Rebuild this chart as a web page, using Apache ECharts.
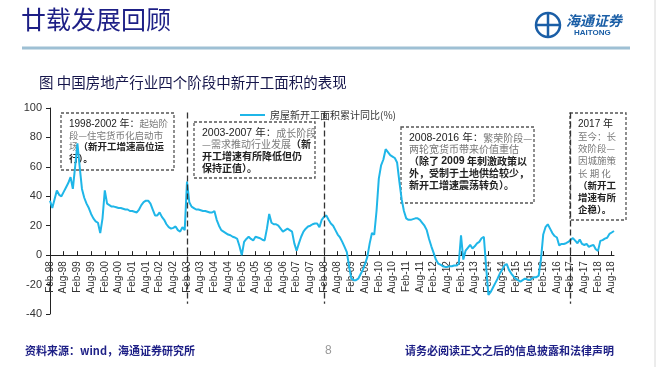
<!DOCTYPE html>
<html><head><meta charset="utf-8">
<script src="https://cdn.jsdelivr.net/npm/echarts@6/dist/echarts.min.js"></script>
<style>html,body{margin:0;padding:0;background:#fff;}#c{width:660px;height:367px;}</style>
</head><body><div id="c"></div>
<script>
// Monthly values, 房屋新开工面积累计同比(%), Feb-1998 .. Sep-2018
const y1998 = [37, 32, 38, 44, 41, 40, 43, 46, 49, 53, 45]; // Feb-Dec
const y1999 = [60, 76, 60, 45, 39, 35, 32, 28, 25, 23, 22, 15];
const y2000 = [25, 44, 35, 34, 33, 33, 32.5, 32, 32, 31.5, 31, 31];
const y2001 = [30, 30, 29.5, 29, 31, 34, 36, 37, 37, 35, 31, 27];
const y2002 = [27, 29, 26, 24, 21, 19, 18, 18.5, 19.5, 17, 16, 19];
const y2003 = [17, 50, 36, 33, 32, 31, 31, 30.5, 30, 30, 29.5, 29];
const y2004 = [29, 30, 24, 20, 17, 16, 15, 14, 13.5, 12.5, 12, 11];
const y2005 = [6, 0, 9, 11, 12.5, 11, 10, 12.5, 12, 11.5, 10.5, 10];
const y2006 = [18, 28, 22, 21, 21, 20, 18, 16, 17, 18, 17, 16];
const y2007 = [8, 3, 8, 12.5, 16, 18, 19.5, 20, 21, 21.5, 21.5, 19];
const y2008 = [24, 26, 27, 24, 21.5, 20, 17, 14, 12, 9, 5.6, 2];
const y2009 = [-8, -16, -17, -17, -16, -13, -10, -6, -1, 8, 15, 14];
const y2010 = [30, 52, 61, 65, 72, 70, 68, 67, 66, 63, 50, 38];
const y2011 = [30, 25, 24, 24, 24.5, 25, 25, 24, 22, 20, 17, 11];
const y2012 = [6, 1.5, -3, -5.7, -6.5, -7.5, -8, -8, -7.5, -7.5, -7, -7];
const y2013 = [-6, 13.5, -3, 3, 5, 7, 4.5, 6, 8, 9, 11.5, 12.5];
const y2014 = [-8, -27, -25, -22, -19, -16, -12.5, -10, -7, -6, -10, -12.5];
const y2015 = [-14.5, -16, -17, -18, -17, -16, -16.5, -17, -16, -15, -15, -14];
const y2016 = [-3, 14, 19, 21, 18, 15, 13, 12, 6.6, 7.6, 7.6, 8.1];
const y2017 = [9, 10.4, 11.6, 9.9, 8.1, 10.6, 7.6, 6.9, 7.7, 5.6, 6.4, 7.0];
const y2018 = [4, 2.9, 9.7, 10.2, 11.2, 11.8, 14.4, 15.4, 16.4]; // Jan-Sep

const monthNames = ['Jan','Feb','Mar','Apr','May','Jun','Jul','Aug','Sep','Oct','Nov','Dec'];
const yearArrays = [y1998,y1999,y2000,y2001,y2002,y2003,y2004,y2005,y2006,y2007,y2008,y2009,y2010,y2011,y2012,y2013,y2014,y2015,y2016,y2017,y2018];
const firstYear = 1998;
const stageLines = ['Feb-03', 'Feb-08', 'Feb-17'];
const yTicks = {min: -40, max: 100, interval: 20};
const seriesName = '房屋新开工面积累计同比(%)';

const categories = [];
const values = [];
yearArrays.forEach((arr, i) => {
  const yr = firstYear + i;
  const startMonth = (i === 0) ? 1 : 0;
  arr.forEach((v, j) => {
    categories.push(monthNames[startMonth + j] + '-' + String(yr % 100).padStart(2, '0'));
    values.push(v);
  });
});

const navy = '#1d1f86';
const cjk = '"Noto Sans CJK SC", sans-serif';
const gridTop = 108, gridBottom = 53, H = 367;
const gridH = H - gridTop - gridBottom;
const zeroOffset = gridH * (0 - yTicks.min) / (yTicks.max - yTicks.min);

function box(x, y, w, h, lines, lh, fs) {
  return {
    type: 'group', children: [
      {type: 'rect', shape: {x: x, y: y, width: w, height: h},
       style: {fill: 'none', stroke: '#555', lineWidth: 1.3, lineDash: [3, 2]}},
      {type: 'text', x: x + 8, y: y + 5,
       style: {text: lines, font: fs + 'px ' + cjk, lineHeight: lh,
         rich: {
           n: {fontFamily: 'Arial, "Noto Sans CJK SC"', fontSize: fs + 0.5, fill: '#222', lineHeight: lh},
           g: {fontFamily: cjk, fontSize: fs, fill: '#7a7a7a', lineHeight: lh},
           b: {fontFamily: cjk, fontSize: fs, fontWeight: 'bold', fill: '#222', lineHeight: lh},
           bn: {fontFamily: 'Arial, "Noto Sans CJK SC"', fontSize: fs + 0.5, fontWeight: 'bold', fill: '#222', lineHeight: lh}
         }}}
    ]
  };
}

const chart = echarts.init(document.getElementById('c'), null, {renderer: 'canvas'});
chart.setOption({
  backgroundColor: '#fff',
  animation: false,
  grid: {left: 50, right: 46, top: gridTop, bottom: gridBottom, containLabel: false},
  legend: {
    left: 235, top: 105, itemWidth: 25, itemHeight: 2, icon: 'rect',
    textStyle: {fontSize: 10, color: '#333', fontFamily: cjk},
    data: [seriesName]
  },
  xAxis: {
    type: 'category', data: categories, boundaryGap: false,
    offset: -zeroOffset,
    axisLine: {onZero: false, lineStyle: {color: '#222', width: 1}},
    axisTick: {inside: true, length: 4, interval: (i) => i % 6 === 0, lineStyle: {color: '#222'}},
    axisLabel: {rotate: 90, fontSize: 10, color: '#333', fontFamily: 'Arial', margin: 6,
      interval: (i) => i % 6 === 0},
    splitLine: {show: false}
  },
  yAxis: {
    type: 'value', min: yTicks.min, max: yTicks.max, interval: yTicks.interval,
    axisLine: {show: true, lineStyle: {color: '#222', width: 1}},
    axisTick: {show: true, length: 4, lineStyle: {color: '#222'}},
    axisLabel: {fontSize: 11, color: '#333', fontFamily: 'Arial', margin: 8},
    splitLine: {show: false}
  },
  series: [{
    name: seriesName, type: 'line', data: values, symbol: 'none',
    lineStyle: {color: '#1fb6e8', width: 2}, itemStyle: {color: '#1fb6e8'},
    markLine: {
      silent: true, symbol: 'none', label: {show: false},
      lineStyle: {color: '#333', type: [6, 3], width: 1.3},
      data: stageLines.map(c => [{coord: [c, 97]}, {coord: [c, -33]}])
    }
  }],
  graphic: [
    {type: 'text', left: 21, top: 7, style: {text: '廿载发展回顾', font: '25px ' + cjk, fill: navy}},
    {type: 'line', shape: {x1: 22, y1: 48, x2: 630, y2: 48}, style: {stroke: '#9ec0d4', lineWidth: 3}},
    {type: 'line', shape: {x1: 655, y1: 0, x2: 655, y2: 367}, style: {stroke: '#d8d8d8', lineWidth: 1}},
    // logo
    {type: 'circle', shape: {cx: 548, cy: 25, r: 12}, style: {fill: 'none', stroke: '#1a5ea6', lineWidth: 2.5}},
    {type: 'line', shape: {x1: 537, y1: 25, x2: 559, y2: 25}, style: {stroke: '#1a5ea6', lineWidth: 2.5}},
    {type: 'line', shape: {x1: 548, y1: 14, x2: 548, y2: 36}, style: {stroke: '#1a5ea6', lineWidth: 2.5}},
    {type: 'text', left: 566, top: 14, style: {text: '海通证券', font: 'italic bold 14px ' + cjk, fill: '#1a5ea6'}},
    {type: 'text', left: 574, top: 29, style: {text: 'HAITONG', font: 'bold 8px Arial', fill: '#1a5ea6'}},
    {type: 'text', left: 39, top: 75, style: {text: '图 中国房地产行业四个阶段中新开工面积的表现', font: '14.5px ' + cjk, fill: '#15154a'}},
    box(61, 113, 113, 57,
      '{n|1998-2002 年：}{g|起始阶}\n{g|段—住宅货币化启动市}\n{g|场}{b|（新开工增速高位运}\n{b|行）。}', 11.5, 9.5),
    box(194, 122, 121, 56,
      '{n|2003-2007 年：}{g|成长阶段}\n{g|—需求推动行业发展}{b|（新}\n{b|开工增速有所降低但仍}\n{b|保持正值）。}', 11.7, 10),
    box(401, 127, 133, 76,
      '{n|2008-2016 年：}{g|繁荣阶段—}\n{g|两轮宽货币带来价值重估}\n{b|（除了 }{bn|2009}{b| 年刺激政策以}\n{b|外，受制于土地供给较少，}\n{b|新开工增速震荡转负）。}', 11.8, 10),
    box(570, 113, 56, 107,
      '{n|2017 年}\n{g|至今：长}\n{g|效阶段—}\n{g|因城施策}\n{g|长 期 化}\n{b|（新开工}\n{b|增速有所}\n{b|企稳）。}', 12.2, 9.5),
    {type: 'text', left: 25, top: 345, style: {text: '资料来源：wind，海通证券研究所', font: 'bold 11px ' + cjk, fill: navy}},
    {type: 'text', left: 325, top: 345, style: {text: '8', font: '12px Arial', fill: '#999'}},
    {type: 'text', left: 405, top: 345, style: {text: '请务必阅读正文之后的信息披露和法律声明', font: 'bold 11px ' + cjk, fill: navy}}
  ]
});
</script></body></html>
